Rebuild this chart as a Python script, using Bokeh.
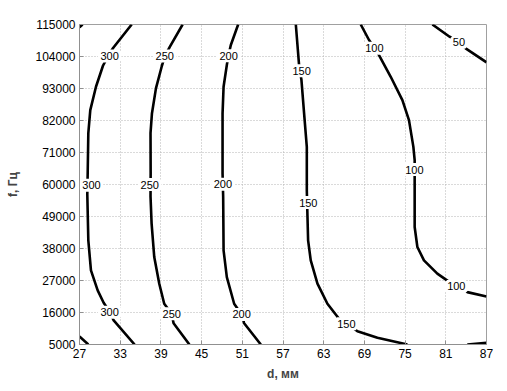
from bokeh.plotting import figure
from bokeh.models import ColumnDataSource, FixedTicker, LabelSet, Range1d, BasicTickFormatter
from bokeh.core.properties import value
from bokeh.embed import file_html
from bokeh.resources import INLINE

# ---- data ----
x_ticks = [27, 33, 39, 45, 51, 57, 63, 69, 75, 81, 87]
y_ticks = [5000, 16000, 27000, 38000, 49000, 60000, 71000, 82000, 93000, 104000, 115000]

c350a_d = [27.0, 27.45]
c350a_f = [114000, 115000]
c350b_d = [27.0, 28.3]
c350b_f = [7750, 5000]

c300_d = [34.69, 31.98, 31.15, 30.46, 29.43, 28.59, 28.30, 28.21, 28.15, 28.30, 28.69, 29.68, 30.56, 31.49, 32.04, 35.12]
c300_f = [115000, 107016, 103900, 100820, 93590, 85570, 77650, 64220, 56650, 40810, 30480, 23590, 19360, 16120, 13260, 5000]

c250_d = [42.2, 40.33, 39.59, 39.15, 38.27, 37.68, 37.47, 37.49, 37.47, 37.63, 38.02, 38.76, 39.49, 40.58, 40.87, 43.2]
c250_f = [115000, 107360, 104150, 100820, 93040, 84430, 77650, 64220, 55900, 46560, 35060, 25900, 19010, 15570, 12330, 5000]

c200_d = [50.39, 49.31, 48.97, 48.72, 48.24, 48.09, 48.09, 48.18, 48.24, 48.72, 49.80, 50.89, 51.27, 53.73]
c200_f = [115000, 107940, 104500, 101060, 93590, 84430, 63770, 55720, 37360, 28170, 19010, 15330, 12330, 5000]

c150_d = [58.89, 59.37, 59.72, 60.11, 60.51, 60.51, 60.61, 60.70, 61.09, 62.08, 63.55, 65.26, 66.5, 67.97, 70.92, 75.34]
c150_f = [115000, 101060, 95900, 84430, 72930, 58020, 48830, 40810, 33920, 25900, 19010, 13850, 12130, 9580, 7300, 5000]

c150b_d = [84.17, 87.0]
c150b_f = [5000, 5600]

c100_d = [68.46, 69.68, 70.52, 71.15, 72.88, 74.60, 75.57, 76.22, 76.41, 76.41, 76.41, 76.81, 77.78, 79.75, 82.6, 84.17, 87.0]
c100_f = [115000, 109670, 106810, 104500, 97030, 89010, 82120, 72930, 68350, 61470, 45390, 38500, 33920, 29340, 24730, 23010, 21530]

c50_d = [79.02, 81.56, 82.93, 83.92, 87.0]
c50_f = [115000, 110800, 108870, 106810, 101990]

label_d = [31.45, 28.77, 31.45, 39.57, 37.36, 40.6, 48.99, 48.13, 50.9, 59.74, 60.73, 66.35, 70.47, 76.36, 82.55, 82.94]
label_f = [104160, 59740, 16120, 104160, 59990, 15570, 104270, 60090, 15330, 99100, 53790, 12130, 106810, 65150, 24970, 108870]
label_text = ["300", "300", "300", "250", "250", "250", "200", "200", "200",
              "150", "150", "150", "100", "100", "100", "50"]

# ---- figure ----
p = figure(width=507, height=391, output_backend="svg", toolbar_location=None,
           x_range=Range1d(27, 87), y_range=Range1d(5000, 115000),
           min_border_left=79, min_border_right=21, min_border_top=24, min_border_bottom=47,
           background_fill_color="white", border_fill_color="white")
p.outline_line_color = "#a0a0a0"

lines = ColumnDataSource(dict(
    xs=[c350a_d, c350b_d, c300_d, c250_d, c200_d, c150_d, c150b_d, c100_d, c50_d],
    ys=[c350a_f, c350b_f, c300_f, c250_f, c200_f, c150_f, c150b_f, c100_f, c50_f],
))
p.multi_line("xs", "ys", source=lines, line_color="black", line_width=2.6, line_join="round")

labels = ColumnDataSource(dict(x=label_d, y=label_f, t=label_text))
ls = LabelSet(x="x", y="y", text="t", source=labels,
              text_align=value("center"), text_baseline=value("middle"),
              text_font=value("Liberation Sans"), text_font_size=value("11px"),
              text_color=value("black"), background_fill_color="white",
              border_line_color="white", border_line_width=5)
p.add_layout(ls)

for ax in (p.xaxis[0], p.yaxis[0]):
    ax.axis_line_color = "#909090"
    ax.major_tick_line_color = "#909090"
    ax.major_tick_in = 4
    ax.major_tick_out = 0
    ax.minor_tick_line_color = None
    ax.major_label_text_font = "Liberation Sans"
    ax.major_label_text_font_size = "12px"
    ax.major_label_text_color = "black"
    ax.axis_label_text_font = "Liberation Sans"
    ax.axis_label_text_font_size = "12px"
    ax.axis_label_text_font_style = "bold"
    ax.major_label_standoff = 4

p.xaxis[0].ticker = FixedTicker(ticks=x_ticks)
p.yaxis[0].ticker = FixedTicker(ticks=y_ticks)
p.yaxis[0].formatter = BasicTickFormatter(use_scientific=False)
p.xaxis[0].axis_label = "d, мм"
p.yaxis[0].axis_label = "f, Гц"
p.xaxis[0].axis_label_standoff = 6
p.yaxis[0].axis_label_standoff = 12

p.xgrid.ticker = FixedTicker(ticks=x_ticks)
p.ygrid.ticker = FixedTicker(ticks=y_ticks)
p.grid.grid_line_color = "#b4b4b4"
p.grid.grid_line_dash = "1 2"
p.grid.grid_line_width = 1

open("out.html", "w").write(file_html(p, INLINE))
